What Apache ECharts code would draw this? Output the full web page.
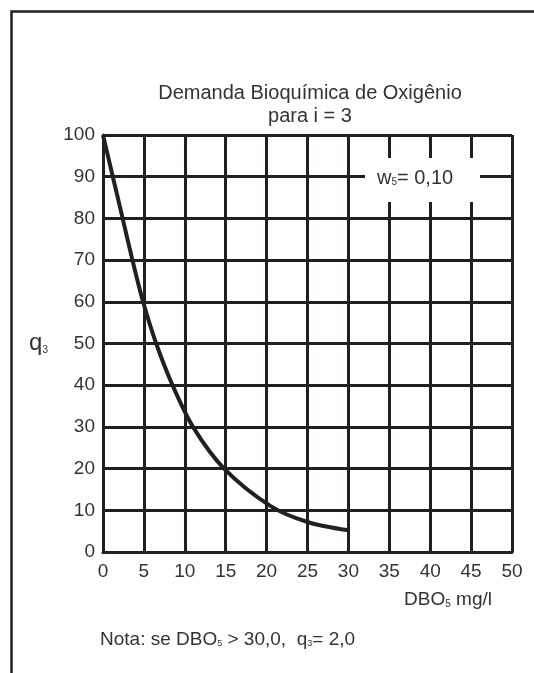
<!DOCTYPE html>
<html>
<head>
	<meta charset="utf-8" />
	<title>Demanda Bioquímica de Oxigênio</title>
	<script src="https://cdn.jsdelivr.net/npm/echarts@6/dist/echarts.min.js"></script>
	<style>
		body { margin: 0; background: #fff; }
		#chartmain { width: 534px; height: 673px; }
	</style>
</head>
<body>
	<div id="chartmain"></div>
</body>
<script type="text/javascript">
	// DBO5 (mg/l) -> q3
	var dbo = [0, 1.2, 2.4, 3.6, 4.9, 6.5, 8.5, 11, 14.8, 20.5, 25, 30];
	var q3 = [100, 90, 80, 70, 60, 50, 40, 30, 20, 11, 7.2, 5.2];
	var xTicks = [0, 5, 10, 15, 20, 25, 30, 35, 40, 45, 50];
	var yTicks = [0, 10, 20, 30, 40, 50, 60, 70, 80, 90, 100];

	var ink = '#231f20';
	var font = 'Liberation Sans, Arial, sans-serif';
	var sub = { fontSize: 10, verticalAlign: 'bottom', padding: [9, 0, 0, 0], fontFamily: font, color: '#333' };

	var myChart = echarts.init(document.getElementById('chartmain'));
	var option = {
		animation: false,
		backgroundColor: '#fff',
		title: {
			text: 'Demanda Bioquímica de Oxigênio\npara i = 3',
			left: 305,
			top: 77,
			textAlign: 'center',
			textStyle: { fontSize: 20, fontWeight: 'normal', color: '#333', fontFamily: font, lineHeight: 23 }
		},
		grid: { left: 103, top: 135, width: 409, height: 417 },
		xAxis: {
			type: 'value', min: xTicks[0], max: xTicks[xTicks.length - 1], interval: 5,
			axisLine: { lineStyle: { color: ink, width: 3 } },
			axisTick: { show: false },
			splitLine: { lineStyle: { color: ink, width: 3 } },
			axisLabel: { color: '#333', fontSize: 19, fontFamily: font, margin: 10 },
			name: '{n|DBO}{s|5}{n| mg/l}',
			nameLocation: 'end',
			nameGap: 0,
			nameTextStyle: {
				align: 'right', verticalAlign: 'top', padding: [38, 20, 0, 0],
				rich: { n: { fontSize: 19, fontFamily: font, color: '#333' }, s: sub }
			}
		},
		yAxis: {
			type: 'value', min: yTicks[0], max: yTicks[yTicks.length - 1], interval: 10,
			axisLine: { show: true, lineStyle: { color: ink, width: 3 } },
			axisTick: { show: false },
			splitLine: { lineStyle: { color: ink, width: 3 } },
			axisLabel: { color: '#333', fontSize: 19, fontFamily: font, margin: 8 },
			name: '{n|q}{s|3}',
			nameLocation: 'middle',
			nameRotate: 0,
			nameGap: 55,
			nameTextStyle: { rich: { n: { fontSize: 24, fontFamily: font, color: '#333' }, s: sub } }
		},
		series: [{
			type: 'line',
			data: dbo.map(function (d, i) { return [d, q3[i]]; }),
			smooth: 0.3,
			showSymbol: false,
			lineStyle: { color: ink, width: 4 },
			z: 5
		}],
		graphic: [
			{
				type: 'rect', left: 9, top: 9, z: 100, silent: true,
				shape: { width: 540, height: 680 },
				style: { fill: 'none', stroke: ink, lineWidth: 2.5 }
			},
			{
				type: 'rect', left: 365, top: 158, z: 50,
				shape: { width: 115, height: 44 },
				style: { fill: '#fff' }
			},
			{
				type: 'text', left: 377, top: 168, z: 51,
				style: {
					text: '{n|w}{s|5}{n|= 0,10}',
					rich: { n: { fontSize: 20, fontFamily: font, fill: '#333' }, s: { fontSize: 10, fontFamily: font, fill: '#333', padding: [9, 0, 0, 0] } }
				}
			},
			{
				type: 'text', left: 100, top: 630, z: 51,
				style: {
					text: '{n|Nota: se DBO}{s|5}{n| > 30,0,  q}{s|3}{n|= 2,0}',
					rich: { n: { fontSize: 19, fontFamily: font, fill: '#333' }, s: { fontSize: 9, fontFamily: font, fill: '#333', padding: [9, 0, 0, 0] } }
				}
			}
		]
	};
	myChart.setOption(option);
</script>
</html>
